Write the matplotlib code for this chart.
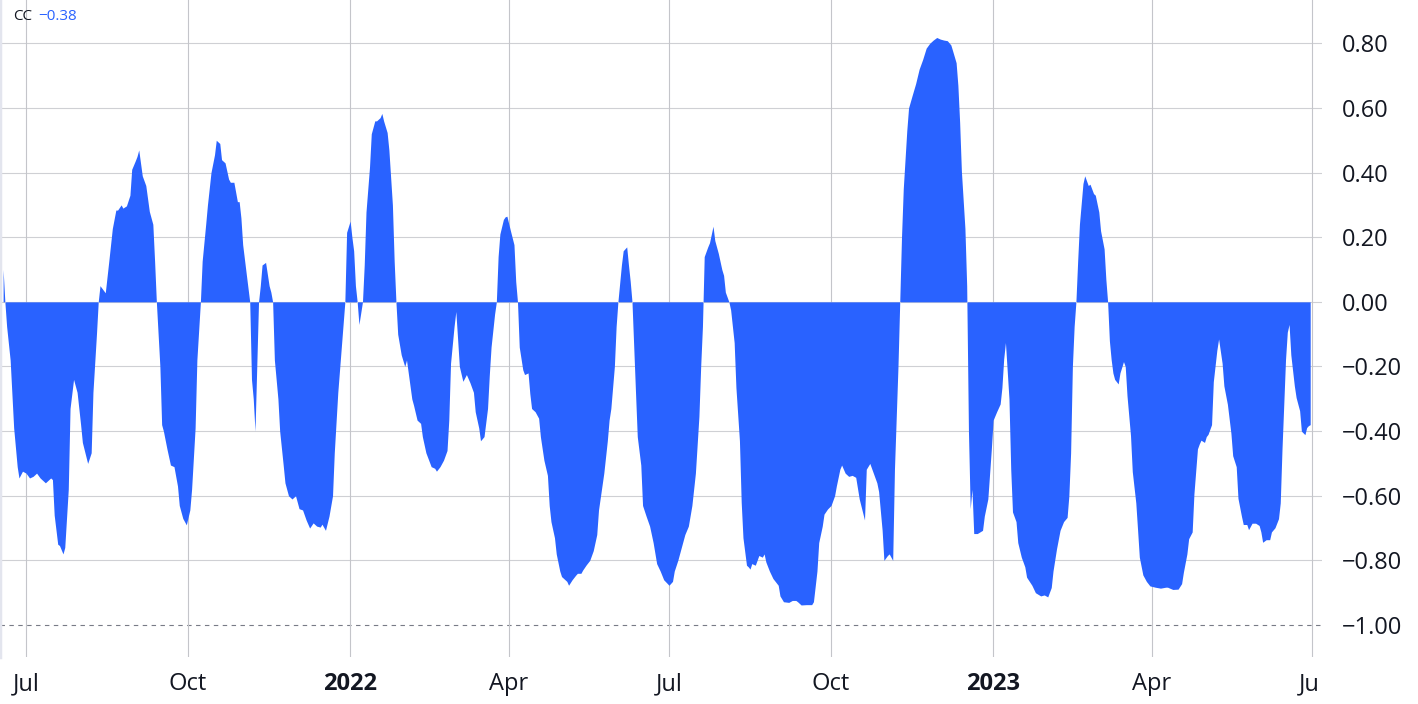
import matplotlib
matplotlib.use("Agg")
import matplotlib.pyplot as plt
import matplotlib.dates as mdates
from matplotlib.patches import Rectangle
import numpy as np

plt.rcParams['font.family'] = ['Open Sans', 'DejaVu Sans']

# Correlation coefficient (days counted from 1 Jul 2021)
start = np.datetime64('2021-07-01')
day = [
    -13, -12, -11, -9, -7, -5, -4, -2, 0, 2, 4, 6, 8, 11, 14, 15, 16, 18, 19, 21,
    22, 24, 25, 27, 29, 31, 32, 35, 37, 38, 40, 41, 42, 45, 47, 49, 51, 52, 54, 55,
    57, 59, 60, 62, 63, 64, 66, 68, 70, 72, 73, 74, 76, 77, 78, 80, 82, 84, 86, 87,
    89, 91, 93, 94, 96, 97, 99, 100, 102, 103, 105, 107, 108, 110, 111, 113, 115, 116, 118, 120,
    121, 122, 123, 125, 127, 128, 129, 130, 131, 132, 133, 134, 136, 138, 139, 140, 141, 143, 144, 146,
    147, 149, 151, 153, 155, 157, 159, 161, 163, 165, 167, 168, 170, 172, 174, 175, 177, 179, 181, 182,
    184, 185, 186, 187, 188, 189, 191, 192, 193, 195, 196, 198, 199, 201, 202, 203, 205, 206, 208, 209,
    210, 211, 213, 215, 216, 217, 219, 220, 222, 224, 225, 227, 230, 232, 233, 235, 237, 239, 240, 241,
    243, 244, 245, 246, 248, 250, 252, 254, 255, 257, 258, 260, 262, 263, 264, 266, 267, 268, 269, 271,
    272, 273, 275, 277, 278, 279, 280, 282, 283, 285, 286, 287, 289, 291, 292, 294, 296, 297, 298, 300,
    301, 303, 304, 307, 308, 310, 312, 313, 315, 316, 318, 320, 322, 324, 325, 328, 330, 331, 332, 334,
    335, 336, 338, 339, 341, 342, 343, 344, 346, 347, 349, 350, 352, 354, 356, 358, 360, 362, 365, 367,
    368, 370, 372, 374, 376, 378, 380, 382, 383, 384, 385, 387, 388, 390, 391, 393, 395, 396, 397, 399,
    400, 402, 403, 405, 406, 407, 409, 410, 411, 412, 414, 416, 418, 419, 420, 422, 424, 427, 428, 430,
    433, 435, 437, 438, 440, 443, 446, 447, 449, 450, 452, 453, 455, 457, 459, 460, 462, 463, 465, 467,
    469, 471, 473, 476, 477, 479, 481, 483, 484, 486, 487, 489, 490, 492, 493, 495, 496, 497, 498, 499,
    500, 501, 503, 505, 507, 509, 511, 513, 515, 517, 519, 521, 523, 525, 526, 528, 529, 530, 531, 533,
    534, 535, 536, 537, 538, 540, 543, 544, 546, 548, 549, 551, 553, 554, 555, 556, 558, 559, 560, 562,
    563, 565, 567, 568, 571, 573, 576, 578, 580, 582, 583, 585, 587, 589, 591, 592, 593, 594, 595, 596,
    597, 598, 600, 601, 603, 604, 606, 607, 609, 610, 612, 613, 614, 615, 616, 617, 618, 620, 621, 623,
    624, 625, 627, 628, 630, 631, 632, 634, 636, 638, 641, 644, 647, 648, 651, 654, 656, 657, 659, 660,
    662, 663, 665, 666, 667, 669, 670, 671, 673, 674, 676, 677, 679, 680, 682, 684, 685, 687, 688, 690,
    691, 693, 694, 696, 698, 700, 701, 702, 704, 706, 707, 709, 711, 712, 713, 714, 715, 716, 717, 718,
    720, 721, 723, 724, 726, 727, 728, 729,
]
cc = [
    0.10, 0.0, -0.076, -0.18, -0.39, -0.51, -0.545, -0.524, -0.53, -0.545, -0.54, -0.53, -0.545, -0.56, -0.545, -0.55, -0.66, -0.75, -0.754, -0.78,
    -0.76, -0.58, -0.33, -0.24, -0.28, -0.38, -0.435, -0.50, -0.467, -0.28, -0.10, 0.0, 0.05, 0.028, 0.126, 0.227, 0.284, 0.284, 0.30, 0.29,
    0.297, 0.33, 0.41, 0.436, 0.45, 0.47, 0.39, 0.36, 0.28, 0.24, 0.126, 0.0, -0.20, -0.38, -0.40, -0.455, -0.505, -0.51, -0.57, -0.63,
    -0.67, -0.69, -0.644, -0.58, -0.39, -0.18, 0.0, 0.126, 0.24, 0.30, 0.40, 0.455, 0.50, 0.49, 0.44, 0.43, 0.38, 0.37, 0.37, 0.31,
    0.31, 0.26, 0.177, 0.088, 0.0, -0.24, -0.30, -0.40, -0.20, 0.0, 0.05, 0.114, 0.122, 0.05, 0.03, 0.0, -0.18, -0.30, -0.40, -0.505,
    -0.56, -0.60, -0.61, -0.60, -0.64, -0.644, -0.675, -0.70, -0.684, -0.694, -0.697, -0.688, -0.707, -0.663, -0.60, -0.467, -0.28, -0.14, 0.0, 0.215,
    0.25, 0.20, 0.158, 0.05, 0.0, -0.07, 0.0, 0.114, 0.278, 0.417, 0.52, 0.56, 0.56, 0.57, 0.583, 0.56, 0.524, 0.47, 0.30, 0.126,
    0.0, -0.10, -0.164, -0.20, -0.18, -0.22, -0.30, -0.32, -0.366, -0.376, -0.417, -0.467, -0.51, -0.515, -0.524, -0.51, -0.49, -0.46, -0.366, -0.19,
    -0.076, -0.03, -0.114, -0.20, -0.246, -0.225, -0.25, -0.28, -0.34, -0.39, -0.43, -0.417, -0.33, -0.227, -0.14, -0.038, 0.0, 0.14, 0.21, 0.255,
    0.263, 0.265, 0.22, 0.177, 0.063, 0.0, -0.14, -0.21, -0.225, -0.22, -0.284, -0.33, -0.34, -0.36, -0.417, -0.49, -0.537, -0.63, -0.68, -0.73,
    -0.78, -0.833, -0.85, -0.865, -0.877, -0.86, -0.846, -0.84, -0.84, -0.83, -0.814, -0.80, -0.77, -0.72, -0.644, -0.53, -0.43, -0.366, -0.33, -0.20,
    -0.076, 0.0, 0.114, 0.158, 0.17, 0.114, 0.063, 0.0, -0.28, -0.417, -0.505, -0.63, -0.663, -0.694, -0.745, -0.81, -0.833, -0.86, -0.877, -0.865,
    -0.833, -0.80, -0.76, -0.72, -0.694, -0.63, -0.53, -0.354, -0.20, -0.076, 0.14, 0.17, 0.183, 0.234, 0.19, 0.15, 0.10, 0.082, 0.03, 0.0,
    -0.025, -0.126, -0.265, -0.43, -0.62, -0.73, -0.815, -0.82, -0.827, -0.81, -0.815, -0.785, -0.79, -0.78, -0.805, -0.833, -0.856, -0.877, -0.91, -0.928,
    -0.93, -0.924, -0.924, -0.928, -0.938, -0.937, -0.937, -0.928, -0.833, -0.745, -0.694, -0.657, -0.641, -0.63, -0.60, -0.57, -0.518, -0.505, -0.53, -0.54,
    -0.537, -0.543, -0.61, -0.675, -0.518, -0.50, -0.53, -0.56, -0.587, -0.707, -0.80, -0.785, -0.78, -0.80, -0.518, -0.20, 0.0, 0.20, 0.35, 0.44,
    0.53, 0.60, 0.638, 0.675, 0.72, 0.75, 0.785, 0.80, 0.81, 0.818, 0.813, 0.81, 0.808, 0.795, 0.777, 0.74, 0.67, 0.556, 0.404, 0.227,
    0.05, -0.40, -0.64, -0.58, -0.717, -0.717, -0.707, -0.663, -0.61, -0.455, -0.366, -0.34, -0.316, -0.265, -0.177, -0.126, -0.30, -0.518, -0.65, -0.68,
    -0.745, -0.79, -0.82, -0.852, -0.877, -0.90, -0.91, -0.907, -0.913, -0.884, -0.833, -0.764, -0.707, -0.68, -0.667, -0.60, -0.467, -0.20, -0.076, 0.0,
    0.126, 0.24, 0.366, 0.39, 0.36, 0.364, 0.335, 0.33, 0.278, 0.22, 0.164, 0.07, 0.0, -0.12, -0.178, -0.22, -0.24, -0.254, -0.22, -0.185,
    -0.20, -0.29, -0.414, -0.525, -0.622, -0.705, -0.79, -0.845, -0.865, -0.879, -0.883, -0.886, -0.883, -0.883, -0.89, -0.889, -0.872, -0.837, -0.78, -0.733,
    -0.712, -0.594, -0.455, -0.44, -0.428, -0.435, -0.417, -0.41, -0.38, -0.247, -0.15, -0.115, -0.19, -0.26, -0.317, -0.407, -0.476, -0.51, -0.608, -0.664,
    -0.689, -0.689, -0.705, -0.685, -0.685, -0.692, -0.712, -0.744, -0.736, -0.736, -0.712, -0.699, -0.671, -0.622, -0.455, -0.317, -0.178, -0.094, -0.07, -0.164,
    -0.26, -0.296, -0.337, -0.40, -0.411, -0.389, -0.383, -0.38,
]

y_ticks = [0.8, 0.6, 0.4, 0.2, 0.0, -0.2, -0.4, -0.6, -0.8, -1.0]
x_ticks = ['2021-07-01', '2021-10-01', '2022-01-01', '2022-04-01', '2022-07-01',
           '2022-10-01', '2023-01-01', '2023-04-01', '2023-07-01']
x_labels = ['Jul', 'Oct', '2022', 'Apr', 'Jul', 'Oct', '2023', 'Apr', 'Jul']

blue = '#2962FF'
text_col = '#131722'

dates = start + np.array(day).astype('timedelta64[D]')
cc = np.array(cc)

fig = plt.figure(figsize=(14.18, 7.04), dpi=100)
ax = fig.add_axes([0.0, 47 / 704, 1322 / 1418, 657 / 704])

# grid first, the area sits on top of it
for v in y_ticks:
    if v == -1.0:
        ax.axhline(v, color='#787b86', lw=0.8, ls=(0, (4, 4)), zorder=1)
    else:
        ax.axhline(v, color='#cfd0d4', lw=0.8, zorder=1)
for d in x_ticks:
    ax.axvline(np.datetime64(d), color='#c4c5ca', lw=0.8, zorder=1)

ax.fill_between(dates, cc, 0, color=blue, lw=0, zorder=2)

t0 = mdates.date2num(start)
xlim = (t0 - 14.76, t0 + 735.7)
ax.set_xlim(*xlim)
ax.set_ylim(-1.099, 0.934)

ax.yaxis.tick_right()
ax.set_yticks(y_ticks)
ax.set_yticklabels([f"{v:.2f}".replace('-', '\u2212') for v in y_ticks])
ax.tick_params(axis='y', length=0, pad=14.4, labelsize=17, labelcolor=text_col)
ax.set_xticks([])

for s in ['top', 'right', 'bottom']:
    ax.spines[s].set_visible(False)
ax.spines['left'].set_color('#e3e5ee')
ax.spines['left'].set_linewidth(2.5)

# strip under the pane for the time labels; the last "Jul" is cut short
# at the pane edge like in the original
lab_ax = fig.add_axes([0.0, 0.0, 1322 / 1418, 47 / 704])
lab_ax.set_xlim(*xlim)
lab_ax.set_ylim(0, 1)
lab_ax.axis('off')
cut = Rectangle((0, 0), 1318 / 1322, 1, transform=lab_ax.transAxes,
                facecolor='none', edgecolor='none')
lab_ax.add_patch(cut)
for d, lab in zip(x_ticks, x_labels):
    t = lab_ax.text(mdates.date2num(np.datetime64(d)), 14 / 47, lab,
                    ha='center', va='baseline', fontsize=17, color=text_col,
                    fontweight='bold' if lab.isdigit() else 'normal', clip_on=True)
    t.set_clip_path(cut)

# legend in the top left corner
fig.text(13 / 1418, 1 - 16 / 704, 'CC', fontsize=11, color=text_col, va='center')
fig.text(38 / 1418, 1 - 16 / 704, f"{cc[-1]:.2f}".replace('-', '\u2212'),
         fontsize=11, color=blue, va='center')

fig.savefig('out.png', dpi=100)
